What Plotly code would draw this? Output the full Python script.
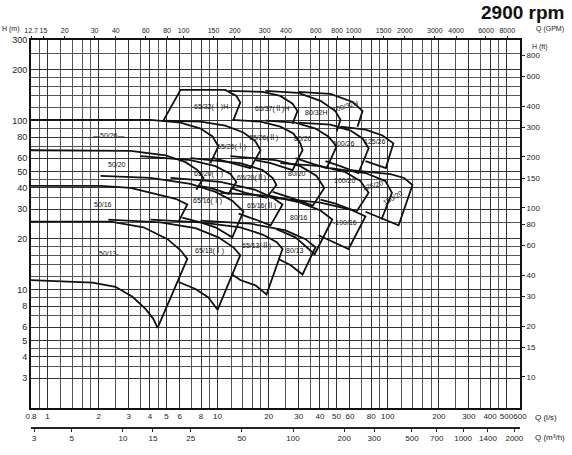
import math
import plotly.graph_objects as go

# ---------------- axis data ----------------
Q_RANGE = [0.8, 600]        # l/s
H_RANGE = [2, 300]          # m
GPM_PER_LS = 15.85
M3H_PER_LS = 3.6
FT_PER_M = 3.28084

q_ticks = [0.8, 1, 2, 3, 4, 5, 6, 8, 10, 20, 30, 40, 50, 60, 80, 100, 200, 300, 400, 500, 600]
q_ticktext = ["0.8", "1", "2", "3", "4", "5", "6", "8", "10", "20", "30", "40", "50", "60", "80",
              "100", "200", "300", "400", "500", "600"]
gpm_ticks = [12.7, 15, 20, 30, 40, 60, 80, 100, 150, 200, 300, 400, 600, 800, 1000, 1500, 2000,
             3000, 4000, 6000, 8000]
m3h_ticks = [3, 5, 10, 15, 25, 50, 100, 200, 300, 500, 700, 1000, 1400, 2000]
h_ticks = [3, 4, 5, 6, 8, 10, 20, 30, 40, 50, 60, 80, 100, 200, 300]
ft_ticks = [10, 15, 20, 30, 40, 60, 80, 100, 150, 200, 300, 400, 600, 800]

grid_mantissa = [1, 1.2, 1.4, 1.6, 1.8, 2, 2.5, 3, 3.5, 4, 4.5, 5, 6, 7, 8, 9]
q_grid = [0.9] + [m * d for d in (1, 10, 100) for m in grid_mantissa if m * d <= 600]
h_grid = [m * d for d in (1, 10, 100) for m in grid_mantissa if 3 <= m * d <= 300]

# ---------------- pump tiles: outline of each range (Q l/s, H m) ----------------
t50_13_q = [0.8, 2.35, 3.67, 5.08, 6.06, 6.64, 4.44, 4.2, 3.77, 3.16, 2.51, 1.84, 0.8]
t50_13_h = [25.3, 25.3, 23.4, 19.9, 17.1, 15.2, 5.95, 6.7, 7.7, 9.07, 10.4, 11.0, 11.4]
t65_13a_q = [2.28, 4.62, 7.42, 10.1, 12.4, 13.6, 10.0, 8.83, 7.42, 5.9]
t65_13a_h = [26.0, 25.0, 23.1, 20.4, 17.8, 16.0, 7.6, 9.0, 10.1, 11.1]
t65_13b_q = [4.03, 7.94, 13.6, 18.4, 22.3, 24.1, 19.4, 16.7, 13.6, 12.2]
t65_13b_h = [26.0, 25.0, 23.4, 21.2, 19.1, 17.4, 9.36, 10.6, 11.4, 12.3]
t80_13_q = [7.94, 15.6, 25.1, 32.9, 37.6, 31.6, 26.8, 22.8]
t80_13_h = [25.6, 24.6, 22.4, 19.9, 17.8, 12.3, 14.0, 15.2]

t50_16_q = [0.8, 2.05, 3.08, 4.32, 5.66, 6.64, 5.9]
t50_16_h = [41.1, 41.1, 40.0, 37.0, 34.5, 31.9, 25.3]
t65_16a_q = [2.05, 4.03, 6.93, 9.73, 12.2, 14.2, 12.2, 9.73, 7.94, 6.2]
t65_16a_h = [47.1, 45.8, 42.2, 37.9, 33.6, 29.0, 20.4, 23.4, 25.0, 26.7]
t65_16b_q = [5.29, 10.4, 16.7, 21.1, 24.1, 20.5, 16.7, 13.3]
t65_16b_h = [45.8, 43.4, 38.9, 35.0, 31.9, 24.0, 26.0, 28.2]
t80_16_q = [10.4, 20.5, 30.7, 40.3, 47.3, 37.2, 28.7, 22.2]
t80_16_h = [37.4, 35.9, 32.7, 29.4, 26.0, 16.2, 20.4, 22.8]
t100_16_q = [20.5, 40.3, 60.5, 74.1, 58.9, 46.1, 39.3]
t100_16_h = [35.0, 32.7, 29.8, 27.1, 17.4, 19.6, 21.0]

t50_20_q = [0.8, 3.08, 4.94, 6.48, 7.62, 8.27, 7.5]
t50_20_h = [66.8, 66.3, 62.4, 56.8, 51.0, 45.8, 39.0]
t65_20a_q = [3.52, 6.93, 9.73, 11.9, 12.9, 11.6, 9.09, 7.7]
t65_20a_h = [61.6, 58.4, 53.8, 48.3, 43.4, 36.9, 40.0, 41.1]
t65_20b_q = [6.93, 13.6, 18.4, 21.1, 22.2, 19.4, 14.6, 11.9]
t65_20b_h = [60.0, 56.1, 51.0, 45.8, 41.6, 35.0, 37.4, 40.0]
t80_20_q = [11.9, 21.9, 30.7, 38.2, 42.4, 36.3, 26.8, 21.1]
t80_20_h = [61.6, 58.4, 53.8, 47.1, 40.0, 31.4, 35.0, 37.9]
t100_20_q = [23.4, 40.3, 56.5, 69.2, 77.3, 65.7, 49.3, 40.3]
t100_20_h = [56.1, 53.8, 49.6, 43.9, 37.4, 29.0, 32.3, 34.1]
t125_20_q = [46.1, 74.1, 97.1, 106, 92.0]
t125_20_h = [52.4, 49.0, 43.9, 37.4, 26.0]
t150_20_q = [60.5, 104, 125, 140, 116, 90.8, 74.1]
t150_20_h = [51.0, 48.3, 45.8, 41.6, 24.0, 26.7, 28.9]

t50_26_q = [0.8, 4.03, 6.06, 7.94, 9.34, 10.1, 9.09]
t50_26_h = [101, 101, 97.3, 89.8, 80.6, 70.5, 56.1]
t65_26a_q = [4.8, 7.94, 11.1, 14.2, 16.7, 17.9, 15.6, 11.9, 9.49]
t65_26a_h = [100, 98.6, 93.5, 85.1, 75.4, 66.8, 52.4, 56.1, 60.0]
t65_26b_q = [12.2, 17.9, 23.4, 27.9, 30.7, 31.6, 27.6, 20.5, 16.7]
t65_26b_h = [101, 98.6, 92.2, 83.9, 73.4, 66.8, 51.0, 56.1, 58.4]
t80_26_q = [19.1, 28.7, 37.6, 44.8, 50.1, 43.8, 35.2, 28.7]
t80_26_h = [100, 97.3, 89.8, 80.6, 70.5, 52.4, 56.1, 60.0]
t100_26_q = [29.8, 46.1, 60.5, 71.2, 77.3, 67.3, 52.8, 43.1]
t100_26_h = [97.3, 94.8, 87.4, 78.5, 68.6, 49.0, 53.8, 57.6]
t125_26_q = [52.8, 74.1, 93.3, 108, 97.6, 74.1]
t125_26_h = [92.2, 88.6, 81.7, 73.4, 52.4, 57.6]

t65_32_q = [4.8, 6.06, 11.1, 12.9, 13.6, 12.4]
t65_32_h = [100, 152, 152, 140, 128, 101]
t65_37_q = [11.6, 18.4, 23.4, 27.6, 29.5, 27.6]
t65_37_h = [150, 148, 140, 126, 114, 96]
t80_32_q = [19.1, 29.8, 40.3, 49.3, 52.8, 50.1]
t80_32_h = [150, 146, 131, 114, 101, 86.2]
t100_32_q = [29.8, 46.1, 62.3, 71.2, 66.5]
t100_32_h = [148, 144, 129, 114, 92.2]

tiles = [
    (t50_13_q, t50_13_h), (t65_13a_q, t65_13a_h), (t65_13b_q, t65_13b_h), (t80_13_q, t80_13_h),
    (t50_16_q, t50_16_h), (t65_16a_q, t65_16a_h), (t65_16b_q, t65_16b_h), (t80_16_q, t80_16_h),
    (t100_16_q, t100_16_h),
    (t50_20_q, t50_20_h), (t65_20a_q, t65_20a_h), (t65_20b_q, t65_20b_h), (t80_20_q, t80_20_h),
    (t100_20_q, t100_20_h), (t125_20_q, t125_20_h), (t150_20_q, t150_20_h),
    (t50_26_q, t50_26_h), (t65_26a_q, t65_26a_h), (t65_26b_q, t65_26b_h), (t80_26_q, t80_26_h),
    (t100_26_q, t100_26_h), (t125_26_q, t125_26_h),
    (t65_32_q, t65_32_h), (t65_37_q, t65_37_h), (t80_32_q, t80_32_h), (t100_32_q, t100_32_h),
]

# labels: text, Q, H, angle
label_text = ["—50/26—", "50/20", "50/16", "50/13-",
              "65/13(Ⅰ)", "65/13(Ⅱ)", "80/13",
              "65/16(Ⅰ)", "65/16(Ⅱ)", "80/16", "-100/16",
              "65/20(Ⅰ)", "65/20(Ⅱ)", "80/20", "100/20", "125/20", "150/20",
              "65/26(Ⅰ)", "65/26(Ⅱ)", "80/26", "100/26", "125/26",
              "65/32(Ⅰ)H", "65/37(Ⅱ)H", "80/32H", "100/32H"]
label_q = [2.3, 2.55, 2.13, 2.3,
           8.97, 16.9, 28.7,
           8.7, 18.1, 30.3, 56.0,
           8.83, 15.9, 29.5, 56.5, 81.5, 108,
           12.1, 18.7, 31.6, 55.1, 84.8,
           9.2, 20.8, 38.2, 55.8]
label_h = [81.7, 55.0, 31.8, 16.3,
           16.9, 18.1, 17.1,
           33.6, 31.4, 26.7, 25.0,
           48.3, 45.8, 49.0, 44.0, 41.1, 35.0,
           69.5, 78.5, 78.5, 73.4, 75.4,
           120.7, 117.5, 111.3, 122]
label_angle = [0, 0, 0, 0,
               0, 0, 0,
               0, 0, 0, 0,
               0, 0, 0, 0, -15, -30,
               0, 0, 0, 0, 0,
               0, 0, 0, -15]

fig = go.Figure()
for qs, hs in tiles:
    fig.add_trace(go.Scatter(x=qs, y=hs, mode="lines", line=dict(color="#111", width=1.8),
                             showlegend=False, hoverinfo="skip"))

lg = math.log10
FAM = "Liberation Sans, Arial, Noto Sans CJK SC, sans-serif"
font = dict(family=FAM, size=8, color="#222")
y_bottom = 0.052

fig.update_layout(
    width=572, height=455,
    margin=dict(l=31, r=52, t=40, b=22),
    paper_bgcolor="white", plot_bgcolor="white",
    font=font,
    showlegend=False,
    xaxis=dict(type="log", range=[lg(Q_RANGE[0]), lg(Q_RANGE[1])], domain=[0, 1], anchor="y",
               tickvals=q_ticks, ticktext=q_ticktext, ticks="", tickfont=font, tickangle=0,
               showgrid=True, gridcolor="#333", gridwidth=1.2,
               minor=dict(tickvals=q_grid, showgrid=True, gridcolor="#555", gridwidth=1, ticks=""),
               showline=True, linecolor="#111", linewidth=2, mirror=True, zeroline=False),
    yaxis=dict(type="log", range=[lg(H_RANGE[0]), lg(H_RANGE[1])], domain=[y_bottom, 1], anchor="x",
               tickvals=h_ticks, ticks="", tickfont=dict(family=FAM, size=9, color="#222"),
               showgrid=True, gridcolor="#333", gridwidth=1.2,
               minor=dict(tickvals=h_grid, showgrid=True, gridcolor="#555", gridwidth=1, ticks=""),
               showline=True, linecolor="#111", linewidth=2, mirror=True, zeroline=False),
    xaxis2=dict(type="log", range=[lg(Q_RANGE[0]), lg(Q_RANGE[1])], overlaying="x", side="top",
                anchor="y", tickvals=[g / GPM_PER_LS for g in gpm_ticks], tickangle=0,
                ticktext=[str(g) for g in gpm_ticks], ticks="outside", ticklen=3, tickcolor="#222",
                tickfont=dict(family=FAM, size=7, color="#222"), showgrid=False,
                showline=False, zeroline=False),
    xaxis3=dict(type="log", range=[lg(Q_RANGE[0]), lg(Q_RANGE[1])], overlaying="x", side="bottom",
                anchor="free", position=0, tickvals=[m / M3H_PER_LS for m in m3h_ticks], tickangle=0,
                ticktext=[str(m) for m in m3h_ticks], ticks="outside", ticklen=3, tickcolor="#222",
                tickfont=font, showgrid=False, showline=True, linecolor="#222", linewidth=1.5,
                zeroline=False),
    yaxis2=dict(type="log", range=[lg(H_RANGE[0]), lg(H_RANGE[1])], overlaying="y", side="right",
                anchor="x", tickvals=[f / FT_PER_M for f in ft_ticks],
                ticktext=[str(f) for f in ft_ticks], ticks="outside", ticklen=4, tickcolor="#222",
                tickfont=font, showgrid=False, showline=False, zeroline=False),
)

# invisible traces so the secondary axes render
fig.add_trace(go.Scatter(x=[1], y=[10], xaxis="x2", yaxis="y", mode="markers",
                         marker=dict(opacity=0), showlegend=False, hoverinfo="skip"))
fig.add_trace(go.Scatter(x=[1], y=[10], xaxis="x3", yaxis="y", mode="markers",
                         marker=dict(opacity=0), showlegend=False, hoverinfo="skip"))
fig.add_trace(go.Scatter(x=[1], y=[10], xaxis="x", yaxis="y2", mode="markers",
                         marker=dict(opacity=0), showlegend=False, hoverinfo="skip"))

ann = []
for t, q, h, a in zip(label_text, label_q, label_h, label_angle):
    ann.append(dict(text=t, x=lg(q), y=lg(h), xref="x", yref="y", showarrow=False, textangle=a,
                    font=dict(family=FAM, size=7, color="#111")))
ann += [
    dict(text="<b>2900 rpm</b>", x=1.0, y=1.0, xref="paper", yref="paper", xanchor="right",
         yanchor="bottom", xshift=46, yshift=15, showarrow=False,
         font=dict(family=FAM, size=19, color="#111")),
    dict(text="H (m)", x=0, y=1, xref="paper", yref="paper", xanchor="right", yanchor="bottom",
         xshift=-9, yshift=5, showarrow=False, font=dict(family=FAM, size=7, color="#222")),
    dict(text="Q (GPM)", x=1, y=1, xref="paper", yref="paper", xanchor="left", yanchor="bottom",
         xshift=14, yshift=5, showarrow=False, font=dict(family=FAM, size=7, color="#222")),
    dict(text="H (ft)", x=1, y=1, xref="paper", yref="paper", xanchor="left", yanchor="top",
         xshift=10, yshift=-1, showarrow=False, font=dict(family=FAM, size=7, color="#222")),
    dict(text="Q (l/s)", x=1, y=y_bottom, xref="paper", yref="paper", xanchor="left", yanchor="top",
         xshift=13, yshift=-3, showarrow=False, font=font),
    dict(text="Q (m³/h)", x=1, y=0, xref="paper", yref="paper", xanchor="left", yanchor="top",
         xshift=13, yshift=-3, showarrow=False, font=font),
]
fig.update_layout(annotations=ann)
fig.write_html("out.html", config={"displayModeBar": False},
               post_script="document.body.style.margin='0px';")
